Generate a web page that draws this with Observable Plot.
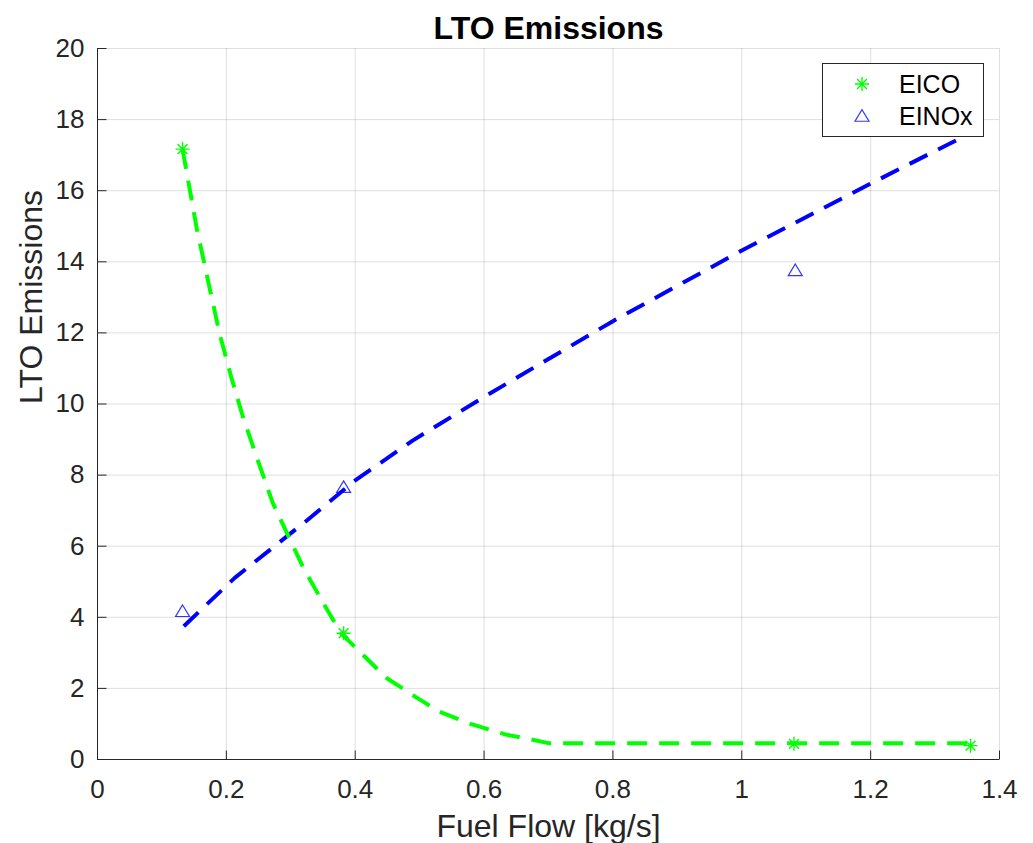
<!DOCTYPE html>
<html>
<head>
<meta charset="utf-8">
<script src="https://cdn.jsdelivr.net/npm/d3@7"></script>
<script src="https://cdn.jsdelivr.net/npm/@observablehq/plot@0.6"></script>
<style>
  html, body { margin: 0; padding: 0; background: #fff; }
  #wrap { position: relative; width: 1033px; height: 843px; font-family: "Liberation Sans", Arial, Helvetica, sans-serif; }
  #legend { position: absolute; left: 822px; top: 63px; width: 160px; height: 72px; border: 1px solid #262626; background: #fff; box-sizing: content-box; }
  .lg-row { position: absolute; left: 0; height: 30px; display: flex; align-items: center; }
  .lg-row svg { position: absolute; left: 29px; }
  .lg-row span { position: absolute; left: 76px; font-size: 25px; color: #000; white-space: nowrap; line-height: 30px; }
</style>
</head>
<body>
<div id="wrap"></div>
<script>
// ---- data ----
const fuelFlowCO = [0.132, 0.382, 1.081, 1.355];
const eiCO = [17.17, 3.55, 0.44, 0.39];
const fuelFlowNOx = [0.132, 0.382, 1.083];
const eiNOx = [4.17, 7.66, 13.76];

// fitted curves
const fitCOx = [0.132, 0.154, 0.172, 0.190, 0.208, 0.226, 0.247, 0.272, 0.293, 0.319, 0.350, 0.378, 0.448, 0.493, 0.530, 0.579, 0.634, 0.677, 0.700, 1.355];
const fitCOy = [17.17, 14.94, 13.43, 11.94, 10.73, 9.62, 8.51, 7.22, 6.41, 5.41, 4.41, 3.55, 2.30, 1.77, 1.35, 1.00, 0.70, 0.55, 0.46, 0.46];
const fitNOxX = [0.134, 0.213, 0.324, 0.400, 0.489, 0.600, 0.800, 1.000, 1.200, 1.333];
const fitNOxY = [3.75, 5.11, 6.71, 7.85, 8.97, 10.20, 12.33, 14.32, 16.20, 17.42];

const xTicks = [0, 0.2, 0.4, 0.6, 0.8, 1, 1.2, 1.4];
const yTicks = [0, 2, 4, 6, 8, 10, 12, 14, 16, 18, 20];

const titleText = "LTO Emissions";
const xLabel = "Fuel Flow [kg/s]";
const yLabel = "LTO Emissions";
const seriesNames = ["EICO", "EINOx"];

// ---- build tables ----
const coPts = fuelFlowCO.map((x, i) => ({x, y: eiCO[i]}));
const noxPts = fuelFlowNOx.map((x, i) => ({x, y: eiNOx[i]}));
const coFit = fitCOx.map((x, i) => ({x, y: fitCOy[i]}));
const noxFit = fitNOxX.map((x, i) => ({x, y: fitNOxY[i]}));

const GREEN = "#00ff00";
const BLUE = "#0000ff";
const AXIS = "#262626";

const asterisk = {
  draw(ctx, size) {
    const r = Math.sqrt(size / Math.PI);
    const d = r * Math.SQRT1_2;
    ctx.moveTo(-r, 0); ctx.lineTo(r, 0);
    ctx.moveTo(0, -r); ctx.lineTo(0, r);
    ctx.moveTo(-d, -d); ctx.lineTo(d, d);
    ctx.moveTo(-d, d); ctx.lineTo(d, -d);
  }
};
const triUp = {
  draw(ctx, size) {
    const r = Math.sqrt(size / Math.PI);
    ctx.moveTo(0, -r * 0.9);
    ctx.lineTo(r, r * 0.75);
    ctx.lineTo(-r, r * 0.75);
    ctx.closePath();
  }
};
const tickUp = { draw(ctx) { ctx.moveTo(0, 0); ctx.lineTo(0, -9); } };
const tickRight = { draw(ctx) { ctx.moveTo(0, 0); ctx.lineTo(9, 0); } };

const chart = Plot.plot({
  width: 1033,
  height: 843,
  marginLeft: 97,
  marginRight: 34,
  marginTop: 48,
  marginBottom: 84,
  style: { fontFamily: "Liberation Sans, Arial, Helvetica, sans-serif", background: "#fff", color: AXIS },
  x: { domain: [0, 1.4] },
  y: { domain: [0, 20] },
  marks: [
    Plot.gridX(xTicks, { stroke: AXIS, strokeOpacity: 0.15, strokeWidth: 1 }),
    Plot.gridY(yTicks, { stroke: AXIS, strokeOpacity: 0.15, strokeWidth: 1 }),
    Plot.dot(xTicks, { x: d => d, frameAnchor: "bottom", symbol: tickUp, stroke: AXIS, strokeWidth: 1 }),
    Plot.dot(yTicks, { y: d => d, frameAnchor: "left", symbol: tickRight, stroke: AXIS, strokeWidth: 1 }),
    Plot.ruleX([0], { stroke: AXIS, strokeWidth: 1 }),
    Plot.ruleY([0], { stroke: AXIS, strokeWidth: 1 }),
    Plot.axisX(xTicks, { tickSize: 0, tickPadding: 20, fontSize: 26, fill: AXIS, tickFormat: d => String(d), label: null }),
    Plot.axisY(yTicks, { tickSize: 0, tickPadding: 13, fontSize: 26, fill: AXIS, tickFormat: d => String(d), label: null }),
    Plot.line(noxFit, { x: "x", y: "y", stroke: BLUE, strokeWidth: 4, strokeDasharray: "20,12", strokeLinecap: "butt" }),
    Plot.line(coFit, { x: "x", y: "y", stroke: GREEN, strokeWidth: 4, strokeDasharray: "20,12", strokeLinecap: "butt" }),
    Plot.dot(noxPts, { x: "x", y: "y", symbol: triUp, r: 7, stroke: BLUE, strokeOpacity: 0.8, strokeWidth: 1.2, fill: "none" }),
    Plot.dot(coPts, { x: "x", y: "y", symbol: asterisk, r: 7, stroke: GREEN, strokeWidth: 1.4, fill: "none" }),
    Plot.text([titleText], { frameAnchor: "top", lineAnchor: "middle", dy: -20, fontSize: 32, fontWeight: "bold", fill: "#000" }),
    Plot.text([xLabel], { frameAnchor: "bottom", lineAnchor: "middle", dy: 67, fontSize: 32, fill: AXIS }),
    Plot.text([yLabel], { frameAnchor: "left", lineAnchor: "middle", dx: -66, rotate: -90, fontSize: 32, fill: AXIS })
  ]
});

const wrap = document.getElementById("wrap");
wrap.appendChild(chart);

// legend
const legend = document.createElement("div");
legend.id = "legend";
const mk = (name, i) => {
  const row = document.createElement("div");
  row.className = "lg-row";
  row.style.top = (i === 0 ? 5 : 37) + "px";
  const svgNS = "http://www.w3.org/2000/svg";
  const svg = document.createElementNS(svgNS, "svg");
  svg.setAttribute("width", 20); svg.setAttribute("height", 20);
  svg.setAttribute("viewBox", "-10 -10 20 20");
  const p = document.createElementNS(svgNS, "path");
  const sym = i === 0 ? asterisk : triUp;
  const path = d3.path();
  sym.draw(path, Math.PI * 49);
  p.setAttribute("d", path.toString());
  p.setAttribute("fill", "none");
  p.setAttribute("stroke", i === 0 ? GREEN : BLUE);
  p.setAttribute("stroke-width", i === 0 ? 1.4 : 1.2);
  if (i === 1) p.setAttribute("stroke-opacity", 0.8);
  svg.appendChild(p);
  svg.style.top = "5px";
  const span = document.createElement("span");
  span.textContent = name;
  row.appendChild(svg);
  row.appendChild(span);
  legend.appendChild(row);
};
seriesNames.forEach(mk);
wrap.appendChild(legend);
</script>
</body>
</html>
